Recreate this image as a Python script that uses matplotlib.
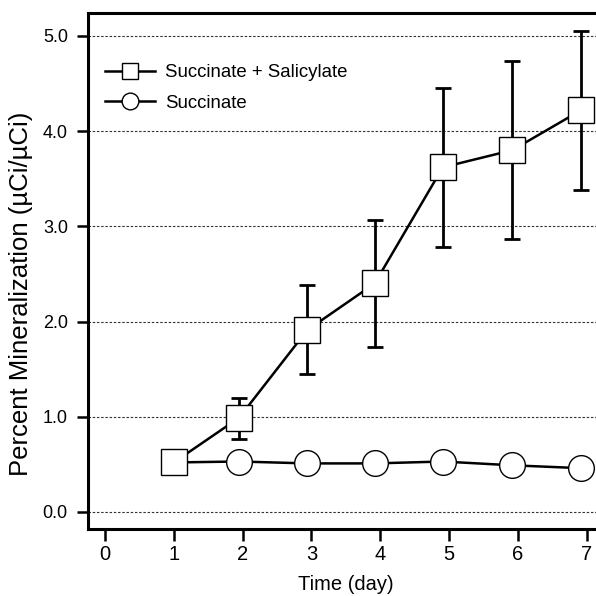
import matplotlib
matplotlib.use('Agg')
import matplotlib.pyplot as plt

plt.rcParams['font.family'] = ['Liberation Sans', 'DejaVu Sans']

# 数据
days = [1.0, 1.95, 2.94, 3.92, 4.91, 5.92, 6.92]
sal_mean = [0.52, 0.99, 1.91, 2.40, 3.62, 3.80, 4.22]
sal_low = [0.52, 0.77, 1.45, 1.73, 2.78, 2.87, 3.38]
sal_high = [0.52, 1.20, 2.38, 3.07, 4.45, 4.74, 5.05]
suc_mean = [0.52, 0.53, 0.51, 0.51, 0.53, 0.49, 0.46]

xticks = [0, 1, 2, 3, 4, 5, 6, 7]
yticks = [0.0, 1.0, 2.0, 3.0, 4.0, 5.0]
ytick_labels = ['0.0', '1.0', '2.0', '3.0', '4.0', '5.0']

err_lo = [m - l for m, l in zip(sal_mean, sal_low)]
err_hi = [h - m for m, h in zip(sal_mean, sal_high)]

fig = plt.figure(figsize=(5.96, 5.96), dpi=100)
ax = fig.add_axes([88 / 596, 67 / 596, 512 / 596, 516 / 596])

# 虚线网格
for yv in yticks:
    ax.axhline(yv, color='#333333', linewidth=0.8, linestyle=(0, (2.2, 1.6)), zorder=1)

ax.errorbar(days[1:], sal_mean[1:], yerr=[err_lo[1:], err_hi[1:]], fmt='none',
            ecolor='black', elinewidth=2.0, capsize=6, capthick=2.0, zorder=2)

ax.plot(days, suc_mean, '-o', color='black', linewidth=1.8, markersize=18.5,
        markerfacecolor='white', markeredgecolor='black', markeredgewidth=1.0,
        zorder=3, label='Succinate')
ax.plot(days, sal_mean, '-s', color='black', linewidth=1.8, markersize=18.5,
        markerfacecolor='white', markeredgecolor='black', markeredgewidth=1.0,
        zorder=4, label='Succinate + Salicylate')

ax.set_xlim(-0.247, 7.195)
ax.set_ylim(-0.179, 5.241)
ax.set_xticks(xticks)
ax.set_yticks(yticks)
ax.set_yticklabels(ytick_labels)

for side in ['left', 'top', 'bottom']:
    ax.spines[side].set_linewidth(2.2)
ax.spines['right'].set_visible(False)

ax.tick_params(axis='y', direction='out', length=8, width=1.8, pad=6.5, labelsize=13)
ax.tick_params(axis='x', direction='out', length=8.5, width=1.8, pad=3, labelsize=14.5)

ax.set_xlabel('Time (day)', fontsize=14.5)
ax.set_ylabel('Percent Mineralization (\u00b5Ci/\u00b5Ci)', fontsize=18.5)
ax.xaxis.set_label_coords(0.503, -0.089)
ax.yaxis.set_label_coords(-0.107, 0.456)

handles, labels = ax.get_legend_handles_labels()
ax.legend(handles[::-1], labels[::-1], loc='upper left', bbox_to_anchor=(0.033, 0.901),
          frameon=False, fontsize=13.4, handlelength=2.7, handletextpad=0.55,
          labelspacing=0.72, markerscale=0.65, borderpad=0, borderaxespad=0)

fig.savefig('out.png', dpi=100)
